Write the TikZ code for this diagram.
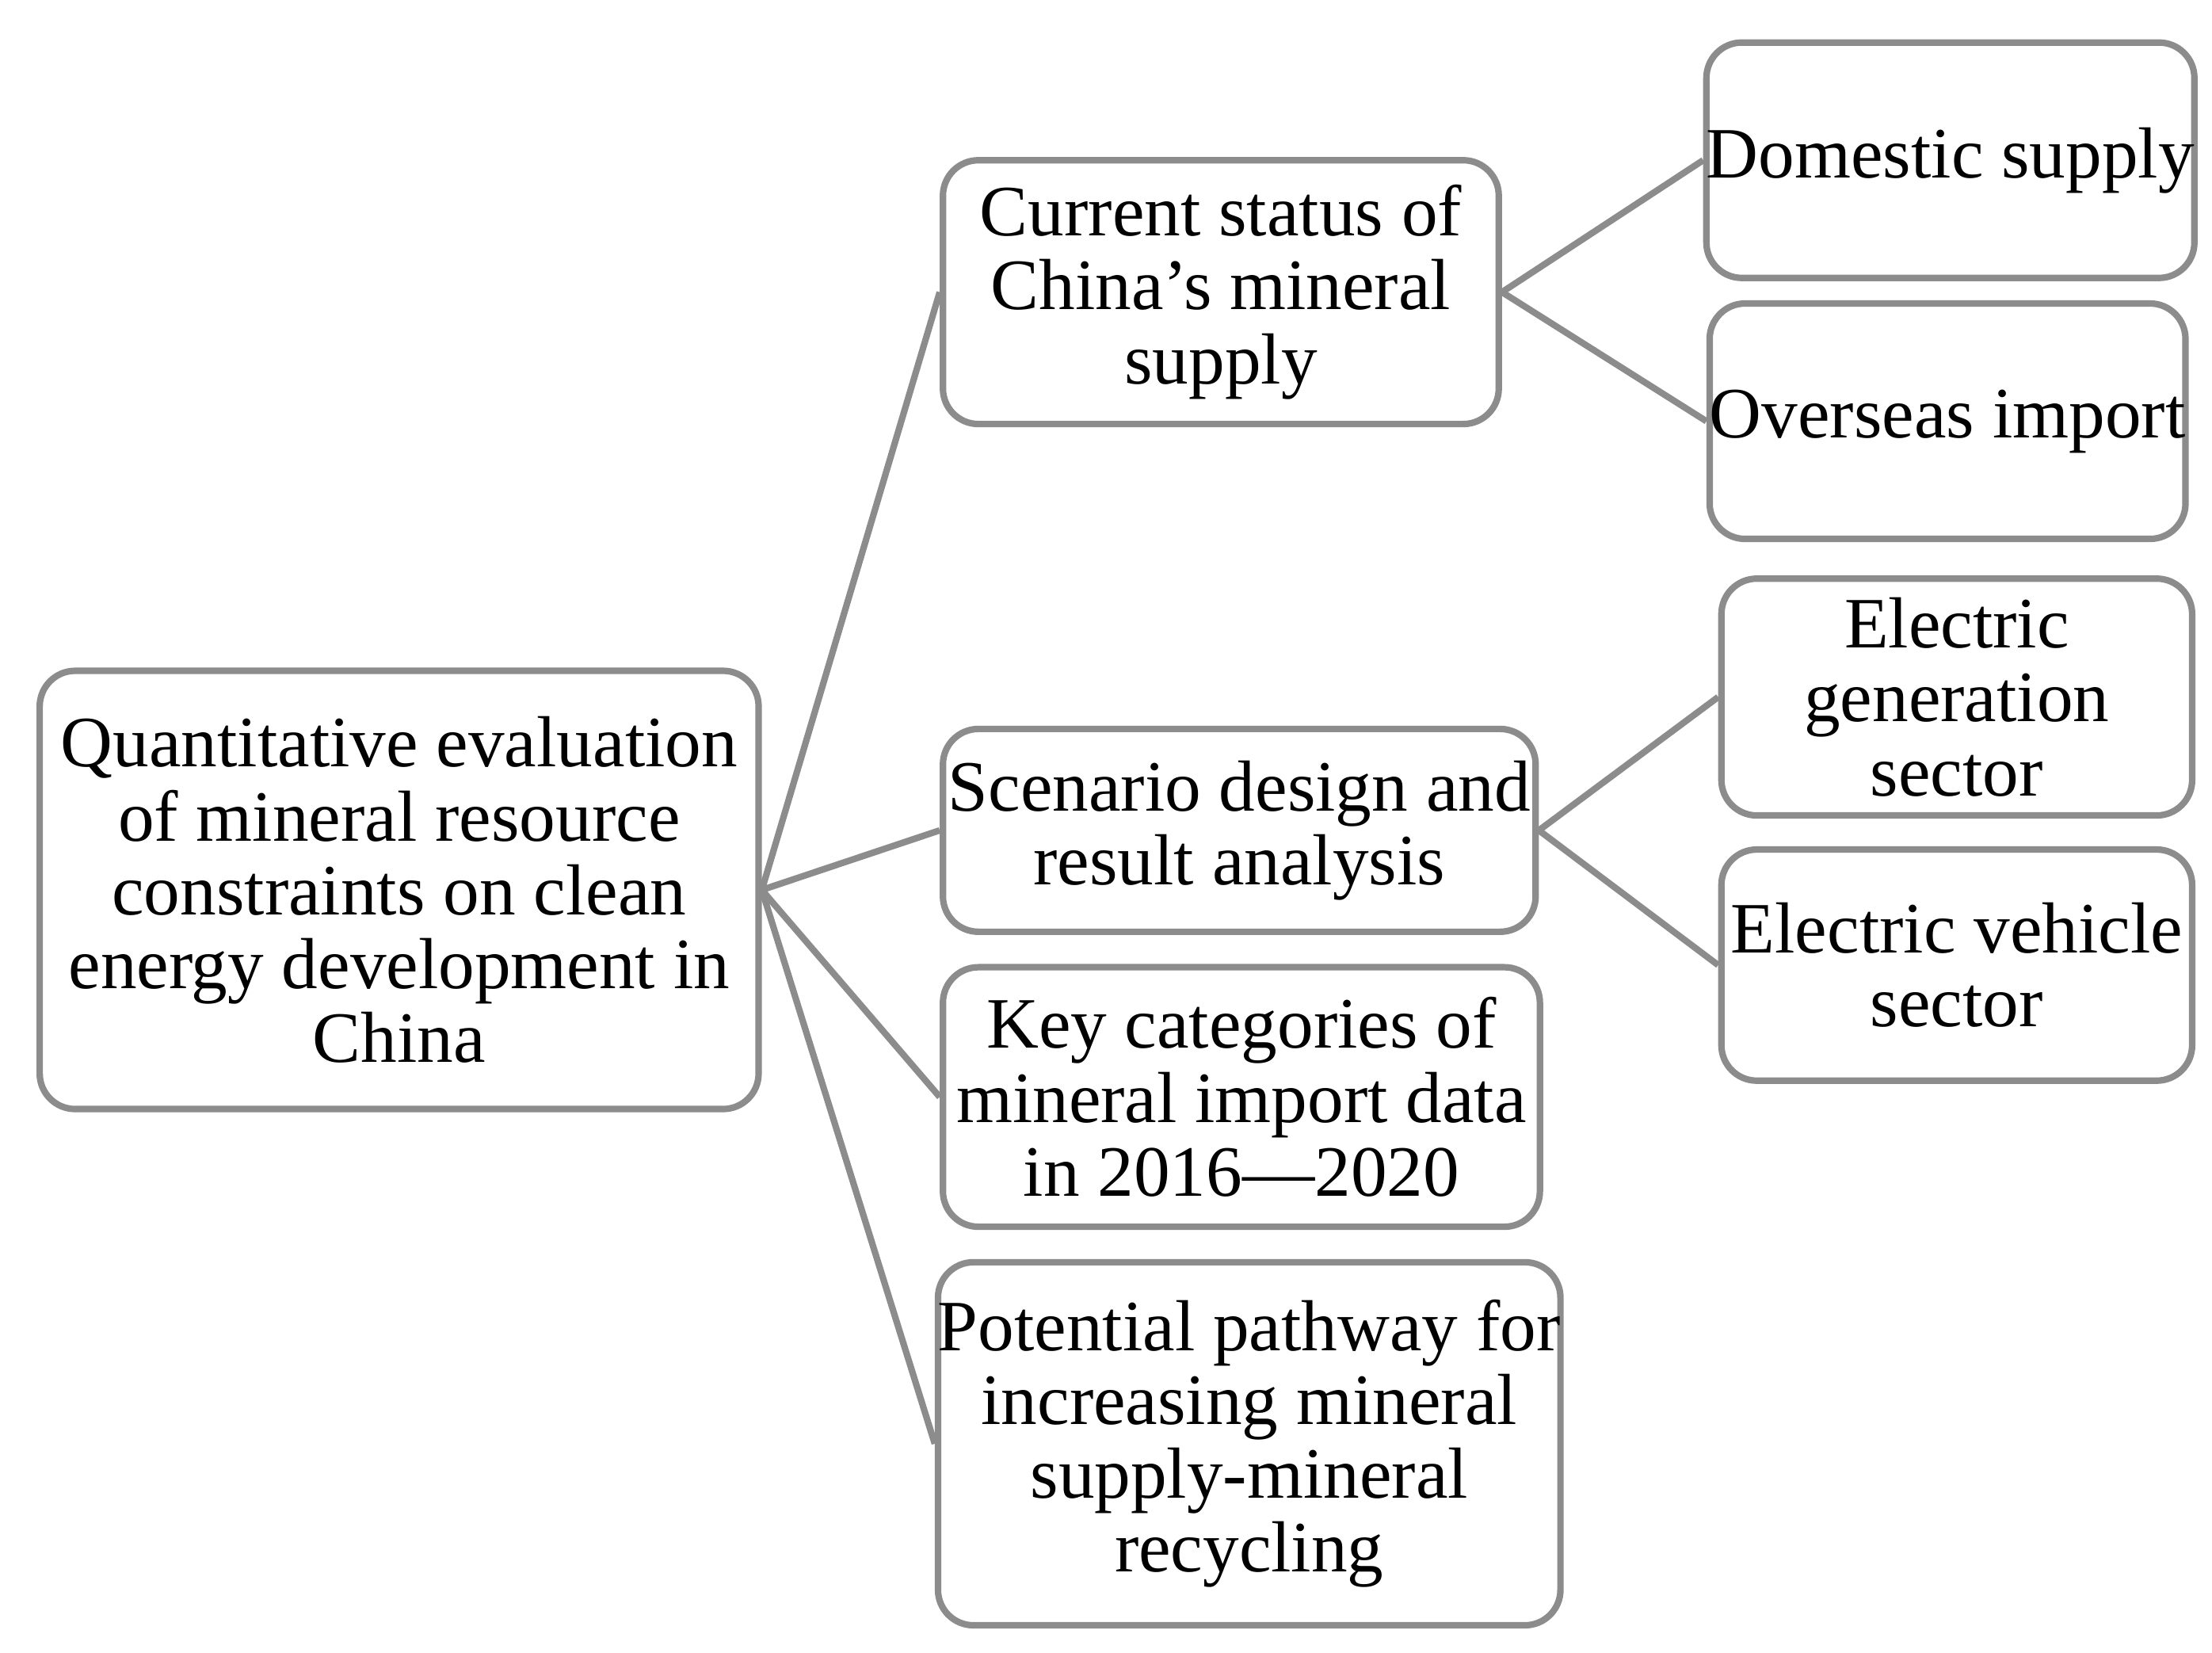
\documentclass[tikz,border=0pt]{standalone}
\usepackage{fontspec}
\setmainfont{Liberation Serif}
\begin{document}
\begin{tikzpicture}[x=0.01cm,y=-0.01cm,
 box/.style={draw=black!45,line width=1.3pt,rounded corners=0.25cm,align=center,inner sep=0pt,
   font=\fontsize{14.5}{14.8}\selectfont},
 ln/.style={draw=black!45,line width=1.3pt}]
\useasboundingbox (0,0) rectangle (1560,1165);
\newcommand\bx[6]{\node[box,minimum width=#3*0.01cm-#2*0.01cm,minimum height=#5*0.01cm-#4*0.01cm] (#1) at ({(#2+#3)/2},{(#4+#5)/2}) {#6};}
\bx{main}{28}{535}{473}{782}{Quantitative evaluation\\of mineral resource\\constraints on clean\\energy development in\\China}
\bx{cur}{665}{1057}{113}{299}{Current status of\\China's mineral\\supply}
\bx{scn}{665}{1083}{514}{657}{Scenario design and\\result analysis}
\bx{key}{665}{1086}{682}{865}{Key categories of\\mineral import data\\in 2016—2020}
\bx{pot}{665}{1097}{890}{1146}{Potential pathway for\\increasing mineral\\supply-mineral\\recycling}
\bx{dom}{1210}{1541}{30}{196}{Domestic supply}
\bx{ovs}{1208}{1539}{214}{380}{Overseas import}
\bx{gen}{1214}{1546}{408}{575}{Electric\\generation\\sector}
\bx{ev}{1214}{1546}{599}{762}{Electric vehicle\\sector}
\draw[ln] (main.east) -- (cur.west |- 0,206);
\draw[ln] (main.east) -- (scn.west);
\draw[ln] (main.east) -- (key.west);
\draw[ln] (main.east) -- (pot.west);
\draw[ln] (cur.east) -- (dom.west);
\draw[ln] (cur.east) -- (ovs.west);
\draw[ln] (scn.east) -- (gen.west);
\draw[ln] (scn.east) -- (ev.west);
\end{tikzpicture}
\end{document}
